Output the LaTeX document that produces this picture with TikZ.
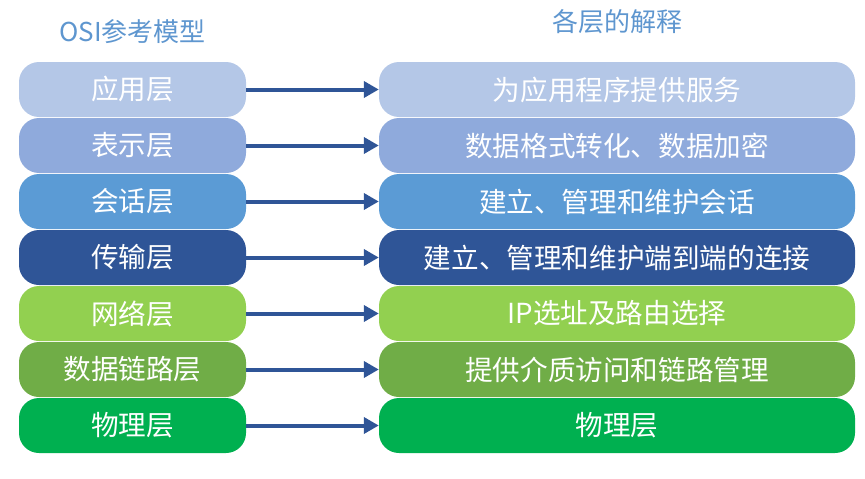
\documentclass[tikz,border=0pt]{standalone}
\usepackage{fontspec}
\newfontfamily\cjk{Noto Sans CJK SC}
\usetikzlibrary{arrows.meta}

\definecolor{layerA}{HTML}{B4C7E7}
\definecolor{layerB}{HTML}{8FAADC}
\definecolor{layerC}{HTML}{5B9BD5}
\definecolor{layerD}{HTML}{2F5597}
\definecolor{layerE}{HTML}{92D050}
\definecolor{layerF}{HTML}{70AD47}
\definecolor{layerG}{HTML}{00B050}
\definecolor{titleblue}{HTML}{5E96CF}

\tikzset{
 layerbox/.style={rounded corners=20pt, minimum height=55pt, inner sep=0pt,
   text=white, font=\cjk\fontsize{27.6}{30}\selectfont},
 link/.style={draw=layerD, line width=4pt, -{Triangle[length=15pt,width=16pt]}},
 headline/.style={text=titleblue, font=\cjk\fontsize{26}{30}\selectfont}
}

\begin{document}
\begin{tikzpicture} [x=1pt, y=-1pt]
\useasboundingbox (0,0) rectangle (865,479);
\node[headline] (osi) at (132.5,32) {OSI参考模型};
\node[headline] (expl) at (617,22) {各层的解释};
\foreach \i/\lname/\rname/\col in {
 1/应用层/为应用程序提供服务/layerA,
 2/表示层/数据格式转化、数据加密/layerB,
 3/会话层/建立、管理和维护会话/layerC,
 4/传输层/建立、管理和维护端到端的连接/layerD,
 5/网络层/IP选址及路由选择/layerE,
 6/数据链路层/提供介质访问和链路管理/layerF,
 7/物理层/物理层/layerG} {
 \node[layerbox, fill=\col, minimum width=227pt] (L\i) at (132.5,{89.5+56*(\i-1)}) {\lname};
 \node[layerbox, fill=\col, minimum width=476pt] (R\i) at (617,{89.5+56*(\i-1)}) {\rname};
 \draw[link] (L\i) -- (R\i);
}
\end{tikzpicture}
\end{document}
